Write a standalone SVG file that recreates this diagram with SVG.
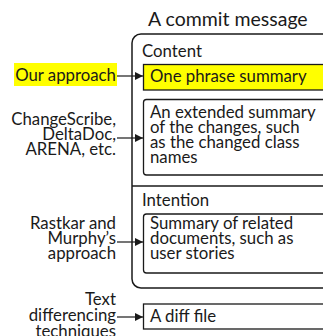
<svg xmlns="http://www.w3.org/2000/svg" width="323" height="336" viewBox="0 0 323 336">
<style>
  text { font-family: Lato, "Open Sans", sans-serif; font-size: 16.8px; fill: #1a1a1a; }
  .lbl { text-anchor: end; }
  .box { fill: #ffffff; stroke: #1a1a1a; stroke-width: 1.3; }
  .conn { stroke: #1a1a1a; stroke-width: 1.2; fill: none; marker-end: url(#ah); }
</style>
<defs>
  <marker id="ah" viewBox="0 0 8 8" refX="8" refY="4" markerWidth="8" markerHeight="8" markerUnits="userSpaceOnUse" orient="auto">
    <path d="M0,0 L8,4 L0,8 z" fill="#1a1a1a"/>
  </marker>
</defs>
<rect width="323" height="336" fill="#ffffff"/>

<g id="title">
  <text x="148" y="26" style="font-size:19.5px">A commit message</text>
</g>

<g id="commit-message">
  <rect x="132" y="34" width="240" height="254" rx="9" fill="#ffffff" stroke="#1a1a1a" stroke-width="1.5"/>
  <line x1="132" y1="186" x2="330" y2="186" stroke="#1a1a1a" stroke-width="1.5"/>
  <text x="142" y="57">Content</text>
  <text x="142" y="206">Intention</text>
</g>

<g id="one-phrase">
  <rect x="143.5" y="64.5" width="200" height="25.5" fill="#ffff00" stroke="#1a1a1a" stroke-width="1.3"/>
  <text x="150" y="82">One phrase summary</text>
</g>

<g id="extended-summary">
  <rect class="box" x="143.5" y="99.5" width="200" height="75.5" rx="3"/>
  <text x="150" y="118">An extended summary</text>
  <text x="150" y="133">of the changes, such</text>
  <text x="150" y="148">as the changed class</text>
  <text x="150" y="163">names</text>
</g>

<g id="related-docs">
  <rect class="box" x="143.5" y="214" width="200" height="59" rx="3"/>
  <text x="150" y="229">Summary of related</text>
  <text x="150" y="244">documents, such as</text>
  <text x="150" y="259">user stories</text>
</g>

<g id="diff-file">
  <rect class="box" x="143.5" y="304" width="200" height="25"/>
  <text x="150" y="322">A diff file</text>
</g>

<g id="our-approach">
  <rect x="14" y="63" width="103" height="23" fill="#ffff00"/>
  <text class="lbl" x="116" y="81">Our approach</text>
</g>

<g id="changescribe">
  <text class="lbl" x="116" y="125">ChangeScribe,</text>
  <text class="lbl" x="116" y="140">DeltaDoc,</text>
  <text class="lbl" x="116" y="155">ARENA, etc.</text>
</g>

<g id="rastkar">
  <text class="lbl" x="116" y="229">Rastkar and</text>
  <text class="lbl" x="116" y="244">Murphy’s</text>
  <text class="lbl" x="116" y="259">approach</text>
</g>

<g id="text-diff">
  <text class="lbl" x="116" y="305">Text</text>
  <text class="lbl" x="116" y="321">differencing</text>
  <text class="lbl" x="116" y="337">techniques</text>
</g>

<g id="connectors">
  <line class="conn" x1="117" y1="76" x2="143" y2="76"/>
  <line class="conn" x1="117" y1="138" x2="143" y2="138"/>
  <line class="conn" x1="117" y1="242" x2="143" y2="242"/>
  <line class="conn" x1="117" y1="317" x2="143" y2="317"/>
</g>
</svg>
